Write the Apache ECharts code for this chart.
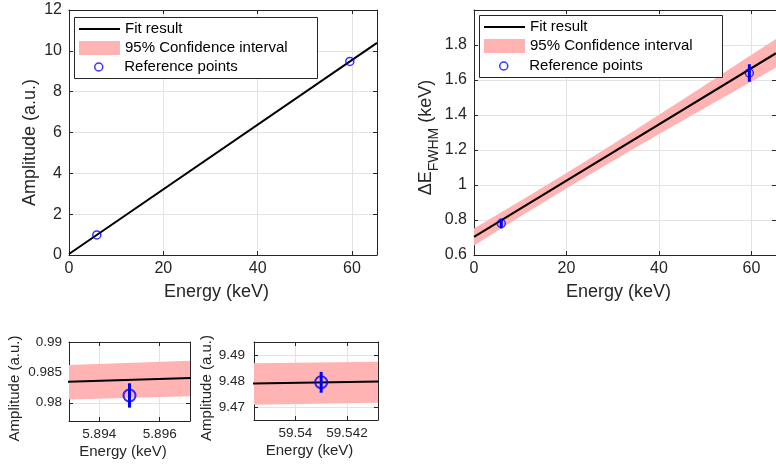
<!DOCTYPE html>
<html><head><meta charset="utf-8">
<script src="https://cdn.jsdelivr.net/npm/echarts@6/dist/echarts.min.js"></script>
<style>html,body{margin:0;padding:0;background:#fff}#c{width:776px;height:466px}</style>
</head><body><div id="c"></div>
<script>
const FONT = "'Liberation Sans', Arial, Helvetica, sans-serif";
const AX = '#262626';
const GRID = '#e3e3e3';
const BAND = '#ffb3b3';
const BLUE = '#0000ff';

// ---- data ----
const fitEnergy = [0, 65.3];
const fitAmplitude = [0.0502, 10.3915];
const ampBandEnergy = [0, 65.3];
const ampBandLower = [0.044, 10.382];
const ampBandUpper = [0.056, 10.401];
const refEnergy = [5.895, 59.541];
const refAmplitude = [0.9812, 9.4795];
const refAmplitudeErr = [0.002, 0.004];
const fwhmFit = [0.703, 1.753];
const fwhmBandEnergy = [0, 10, 20, 30, 40, 50, 60, 65.3];
const fwhmBandLower = [0.655, 0.820, 0.981, 1.137, 1.291, 1.442, 1.592, 1.671];
const fwhmBandUpper = [0.751, 0.908, 1.069, 1.233, 1.401, 1.572, 1.744, 1.835];
const refFwhm = [0.78, 1.64];
const refFwhmErr = [0.028, 0.05];
const zoomLowBandEnergy = [5.893, 5.897];
const zoomLowBandLower = [0.98054, 0.98109];
const zoomLowBandUpper = [0.9862, 0.9869];
const zoomHighBandEnergy = [59.5384, 59.5432];
const zoomHighBandLower = [9.4709, 9.4716];
const zoomHighBandUpper = [9.4868, 9.4874];

const NAMES = ['Fit result', '95% Confidence interval', 'Reference points'];

function xAxes(g, min, max, extra, fs, nfs, margin, gap, labelFlags) {
  const main = Object.assign({
    type: 'value', gridIndex: g, min, max, position: 'bottom',
    axisLine: { show: true, onZero: false, lineStyle: { color: AX, width: 1 } },
    axisTick: { show: true, inside: true, length: 4, lineStyle: { color: AX } },
    axisLabel: Object.assign({ color: AX, fontSize: fs, fontFamily: FONT, margin }, labelFlags),
    splitLine: { show: true, lineStyle: { color: GRID, width: 1 } },
    name: 'Energy (keV)', nameLocation: 'middle', nameGap: gap,
    nameTextStyle: { color: AX, fontSize: nfs, fontFamily: FONT, padding: [0, 13, 0, 0] }
  }, extra);
  const mirror = Object.assign({
    type: 'value', gridIndex: g, min, max, position: 'top',
    axisLine: { show: true, onZero: false, lineStyle: { color: AX, width: 1 } },
    axisTick: { show: true, inside: true, length: 4, lineStyle: { color: AX } },
    axisLabel: { show: false }, splitLine: { show: false }
  }, extra);
  return [main, mirror];
}
function yAxes(g, min, max, extra, fs, nfs, margin, gap, labelFlags, name, shiftDown) {
  const main = Object.assign({
    type: 'value', gridIndex: g, min, max, position: 'left',
    axisLine: { show: true, onZero: false, lineStyle: { color: AX, width: 1 } },
    axisTick: { show: true, inside: true, length: 4, lineStyle: { color: AX } },
    axisLabel: Object.assign({ color: AX, fontSize: fs, fontFamily: FONT, margin }, labelFlags),
    splitLine: { show: true, lineStyle: { color: GRID, width: 1 } },
    name: name.text, nameLocation: 'middle', nameGap: gap,
    nameTextStyle: Object.assign({ color: AX, fontSize: nfs, fontFamily: FONT, padding: [0, 2 * shiftDown, 0, 0] }, name.style || {})
  }, extra);
  const mirror = Object.assign({
    type: 'value', gridIndex: g, min, max, position: 'right',
    axisLine: { show: true, onZero: false, lineStyle: { color: AX, width: 1 } },
    axisTick: { show: true, inside: true, length: 4, lineStyle: { color: AX } },
    axisLabel: { show: false }, splitLine: { show: false }
  }, extra);
  return [main, mirror];
}

function bandSeries(name, xi, yi, E, L, U) {
  const data = E.map((e, i) => [e, L[i], U[i]]);
  return {
    type: 'custom', name, xAxisIndex: xi, yAxisIndex: yi, data, z: 1, silent: true,
    itemStyle: { color: BAND },
    encode: { x: 0, y: [1, 2] },
    renderItem(params, api) {
      if (params.dataIndex !== 0) return null;
      const pts = [];
      for (let i = 0; i < E.length; i++) pts.push(api.coord([E[i], U[i]]));
      for (let i = E.length - 1; i >= 0; i--) pts.push(api.coord([E[i], L[i]]));
      return { type: 'polygon', shape: { points: pts }, style: { fill: BAND } };
    }
  };
}
function fitSeries(name, xi, yi, E, Y) {
  return {
    type: 'line', name, xAxisIndex: xi, yAxisIndex: yi, z: 2, silent: true,
    data: E.map((e, i) => [e, Y[i]]), symbol: 'none', showSymbol: false, clip: true,
    lineStyle: { color: '#000', width: 2 }, itemStyle: { color: '#000' }
  };
}
function errSeries(xi, yi, E, Y, Err, w) {
  return {
    type: 'custom', name: 'err', xAxisIndex: xi, yAxisIndex: yi, z: 3, silent: true,
    data: E.map((e, i) => [e, Y[i] - Err[i], Y[i] + Err[i]]),
    encode: { x: 0, y: [1, 2] },
    renderItem(params, api) {
      const p1 = api.coord([api.value(0), api.value(1)]);
      const p2 = api.coord([api.value(0), api.value(2)]);
      return { type: 'line', shape: { x1: p1[0], y1: p1[1], x2: p2[0], y2: p2[1] }, style: { stroke: BLUE, lineWidth: w } };
    }
  };
}
function refSeries(name, xi, yi, E, Y, size, bw) {
  return {
    type: 'scatter', name, xAxisIndex: xi, yAxisIndex: yi, z: 4, silent: true,
    data: E.map((e, i) => [e, Y[i]]), symbol: 'circle', symbolSize: size,
    itemStyle: { color: 'rgba(0,0,0,0)', borderColor: BLUE, borderWidth: bw }
  };
}
function legendSet(left, centers) {
  const ts = { fontSize: 15, color: '#000', fontFamily: FONT, lineHeight: 16 };
  return [
    { data: [{ name: NAMES[0], icon: 'path://M0,0H41V2H0Z', itemStyle: { color: '#000' } }], left, top: centers[0] - 8, itemWidth: 41, itemHeight: 14, padding: 0, z: 6, selectedMode: false, textStyle: ts },
    { data: [{ name: NAMES[1], icon: 'rect', itemStyle: { color: BAND } }], left, top: centers[1] - 8, itemWidth: 41, itemHeight: 14, padding: 0, z: 6, selectedMode: false, textStyle: ts },
    { data: [{ name: NAMES[2], icon: 'circle', itemStyle: { color: 'rgba(0,0,0,0)', borderColor: BLUE, borderWidth: 1.5 } }], left: left + 15, top: centers[2] - 8, itemWidth: 41, itemHeight: 8, padding: 0, z: 6, selectedMode: false, textStyle: ts }
  ];
}

const xa = [].concat(
  xAxes(0, 0, 65.3, { interval: 20 }, 16, 18, 6, 28, { showMaxLabel: false }),
  xAxes(1, 0, 65.3, { interval: 20 }, 16, 18, 6, 28, { showMaxLabel: false }),
  xAxes(2, 5.893, 5.897, { splitNumber: 2 }, 13.5, 15, 6, 23, { showMinLabel: false, showMaxLabel: false }),
  xAxes(3, 59.5384, 59.5432, { splitNumber: 2 }, 13.5, 15, 6, 23, { showMinLabel: false, showMaxLabel: false })
);
const ya = [].concat(
  yAxes(0, 0, 12, { interval: 2 }, 16, 18, 7, 30, {}, { text: 'Amplitude (a.u.)' }, 10),
  yAxes(1, 0.6, 2.0, { interval: 0.2 }, 16, 18, 7, 30, { showMaxLabel: false },
    { text: '{n|ΔE}{s|FWHM}{n| (keV)}', style: { rich: {
      n: { fontSize: 18, fontFamily: FONT, color: AX },
      s: { fontSize: 14, fontFamily: FONT, color: AX, padding: [16, 0, 0, 0] } } } }, 5),
  yAxes(2, 0.977, 0.99, { splitNumber: 3 }, 13.5, 15, 7, 47, { showMinLabel: false }, { text: 'Amplitude (a.u.)' }, 7),
  yAxes(3, 9.465, 9.495, { splitNumber: 3 }, 13.5, 15, 9, 36, { showMinLabel: false, showMaxLabel: false }, { text: 'Amplitude (a.u.)' }, 7)
);

const gridBase = { show: false, containLabel: false };
const option = {
  backgroundColor: '#fff',
  animation: false,
  textStyle: { fontFamily: FONT },
  grid: [
    Object.assign({ left: 69, top: 10, width: 308, height: 245 }, gridBase),
    Object.assign({ left: 474, top: 10, width: 309, height: 245 }, gridBase),
    Object.assign({ left: 69, top: 342, width: 121, height: 79 }, gridBase),
    Object.assign({ left: 254, top: 342, width: 124, height: 78 }, gridBase)
  ],
  xAxis: xa,
  yAxis: ya,
  legend: [].concat(legendSet(79, [29, 48, 67]), legendSet(484, [27, 46, 66])),
  graphic: [
    { type: 'rect', left: 74, top: 17, z: 5, shape: { width: 243, height: 61 }, style: { fill: '#fff', stroke: AX, lineWidth: 1 } },
    { type: 'rect', left: 479, top: 15, z: 5, shape: { width: 243, height: 62 }, style: { fill: '#fff', stroke: AX, lineWidth: 1 } }
  ],
  series: [
    bandSeries(NAMES[1], 0, 0, ampBandEnergy, ampBandLower, ampBandUpper),
    fitSeries(NAMES[0], 0, 0, fitEnergy, fitAmplitude),
    errSeries(0, 0, refEnergy, refAmplitude, refAmplitudeErr, 2),
    refSeries(NAMES[2], 0, 0, refEnergy, refAmplitude, 8, 1.5),

    bandSeries(NAMES[1], 2, 2, fwhmBandEnergy, fwhmBandLower, fwhmBandUpper),
    fitSeries(NAMES[0], 2, 2, fitEnergy, fwhmFit),
    errSeries(2, 2, refEnergy, refFwhm, refFwhmErr, 3),
    refSeries(NAMES[2], 2, 2, refEnergy, refFwhm, 8, 1.5),

    bandSeries('bandLow', 4, 4, zoomLowBandEnergy, zoomLowBandLower, zoomLowBandUpper),
    fitSeries('fitLow', 4, 4, fitEnergy, fitAmplitude),
    errSeries(4, 4, refEnergy, refAmplitude, refAmplitudeErr, 3),
    refSeries('refLow', 4, 4, refEnergy, refAmplitude, 12, 2),

    bandSeries('bandHigh', 6, 6, zoomHighBandEnergy, zoomHighBandLower, zoomHighBandUpper),
    fitSeries('fitHigh', 6, 6, fitEnergy, fitAmplitude),
    errSeries(6, 6, refEnergy, refAmplitude, refAmplitudeErr, 3),
    refSeries('refHigh', 6, 6, refEnergy, refAmplitude, 12, 2)
  ]
};
const chart = echarts.init(document.getElementById('c'), null, { renderer: 'canvas' });
chart.setOption(option);
</script>
</body></html>
